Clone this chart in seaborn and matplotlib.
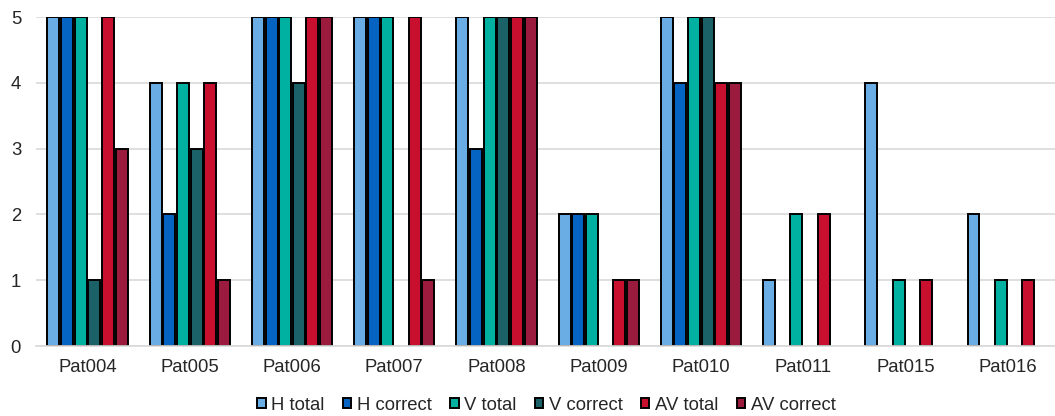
import matplotlib
matplotlib.use("Agg")
import matplotlib.pyplot as plt
import seaborn as sns
import pandas as pd
from matplotlib.patches import Patch

patients = ["Pat004", "Pat005", "Pat006", "Pat007", "Pat008",
            "Pat009", "Pat010", "Pat011", "Pat015", "Pat016"]
series = ["H total", "H correct", "V total", "V correct", "AV total", "AV correct"]

h_total    = [5, 4, 5, 5, 5, 2, 5, 1, 4, 2]
h_correct  = [5, 2, 5, 5, 3, 2, 4, 0, 0, 0]
v_total    = [5, 4, 5, 5, 5, 2, 5, 2, 1, 1]
v_correct  = [1, 3, 4, 0, 5, 0, 5, 0, 0, 0]
av_total   = [5, 4, 5, 5, 5, 1, 4, 2, 1, 1]
av_correct = [3, 1, 5, 1, 5, 1, 4, 0, 0, 0]

colors = ["#6AADE4", "#0563C1", "#00B0A0", "#1A6168", "#C8102E", "#9B1B3F"]

values = [h_total, h_correct, v_total, v_correct, av_total, av_correct]
rows = []
for name, vals in zip(series, values):
    for p, v in zip(patients, vals):
        rows.append({"patient": p, "series": name, "count": v})
df = pd.DataFrame(rows)

sns.set_theme(style="white")
plt.rcParams["font.family"] = ["Liberation Sans", "DejaVu Sans"]

fig = plt.figure(figsize=(10.55, 4.16), dpi=100)
ax = fig.add_axes([0.0345, 0.168, 0.969, 0.791])

# zero counts leave no visible bar
plot_df = df[df["count"] > 0]
sns.barplot(data=plot_df, x="patient", y="count", hue="series",
            order=patients, hue_order=series, palette=colors, saturation=1,
            width=0.8, gap=0.12, edgecolor="black", linewidth=1.4,
            errorbar=None, legend=False, ax=ax)

ax.set_ylim(0, 5)
ax.set_xlim(-0.5, len(patients) - 0.5)
ax.set_yticks(range(0, 6))
ax.yaxis.grid(True, color="#D9D9D9", linewidth=1.2)
ax.set_axisbelow(True)
for s in ["top", "right", "left"]:
    ax.spines[s].set_visible(False)
ax.spines["bottom"].set_color("#D9D9D9")
ax.spines["bottom"].set_linewidth(1.2)
ax.set_xlabel("")
ax.set_ylabel("")
ax.tick_params(axis="both", length=0, labelsize=13.3, colors="#262626")
ax.tick_params(axis="x", pad=9)
ax.tick_params(axis="y", pad=11)

handles = [Patch(facecolor=c, edgecolor="black", linewidth=1.4, label=s)
           for c, s in zip(colors, series)]
fig.legend(handles=handles, loc="lower center", ncol=6, frameon=False,
           bbox_to_anchor=(0.518, -0.035), fontsize=13.3, handlelength=0.45,
           handleheight=0.45, handletextpad=0.3, columnspacing=1.0,
           labelcolor="#262626")

fig.savefig("out.png", dpi=100)
